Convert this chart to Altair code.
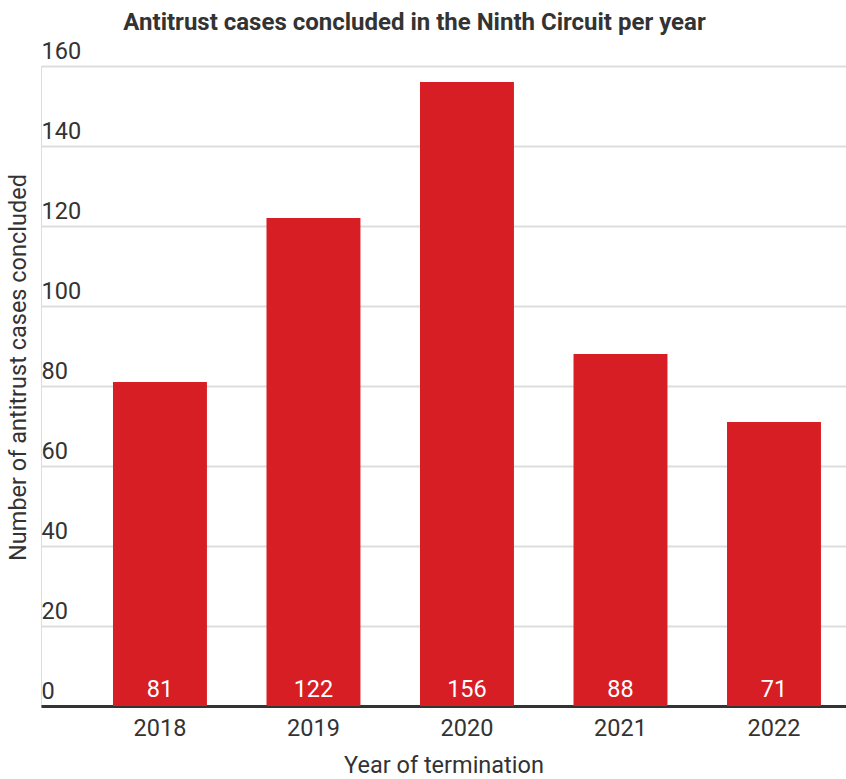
import altair as alt
import pandas as pd

years = ["2018", "2019", "2020", "2021", "2022"]
cases = [81, 122, 156, 88, 71]

df = pd.DataFrame({"year": years, "cases": cases})

FONT = "Roboto"
RED = "#d71e24"
DARK = "#333333"
FS = 23.5

xscale = alt.Scale(paddingInner=0.388, paddingOuter=0.316, align=0.742)

base = alt.Chart(df)

bars = base.mark_bar(color=RED).encode(
    x=alt.X("year:N", sort=years, scale=xscale,
            axis=alt.Axis(title="Year of termination", labelAngle=0,
                          ticks=False, tickSize=0, labelPadding=29,
                          labelBaseline="alphabetic",
                          labelFontSize=FS, labelColor=DARK, labelFont=FONT,
                          titleFontSize=FS, titleFont=FONT, titleFontWeight="normal",
                          titleColor=DARK, titleY=66, titleBaseline="alphabetic",
                          domainColor=DARK, domainWidth=3)),
    y=alt.Y("cases:Q", scale=alt.Scale(domain=[0, 160], nice=False),
            axis=alt.Axis(title="Number of antitrust cases concluded",
                          values=[0, 20, 40, 60, 80, 100, 120, 140, 160],
                          ticks=False, tickSize=0, domain=False,
                          labelAlign="left", labelPadding=0, labelBaseline="alphabetic",
                          labelOffset=-8, labelFontSize=FS, labelColor=DARK, labelFont=FONT,
                          gridColor="#dddddd", gridWidth=2,
                          titleFontSize=FS, titleFont=FONT, titleFontWeight="normal",
                          titleColor=DARK, titleX=-16, titleY=301,
                          titleBaseline="alphabetic", titleAngle=-90, titleAlign="center")),
)

labels = base.mark_text(color="white", fontSize=FS, font=FONT, fontWeight="normal",
                        baseline="alphabetic", dy=-9).encode(
    x=alt.X("year:N", sort=years, scale=xscale),
    y=alt.datum(0),
    text=alt.Text("cases:Q"),
)

chart = (bars + labels).properties(
    width=805, height=640,
    autosize=alt.AutoSizeParams(type="none"),
    padding={"left": 41, "top": 66, "right": 0, "bottom": 73},
    title=alt.TitleParams("Antitrust cases concluded in the Ninth Circuit per year",
                          font=FONT, fontSize=24, fontWeight="bold", color=DARK,
                          anchor="middle", dx=-29),
).configure_view(stroke=None).configure(background="white")

chart.save("out.html", embed_options={"renderer": "svg", "actions": False})
